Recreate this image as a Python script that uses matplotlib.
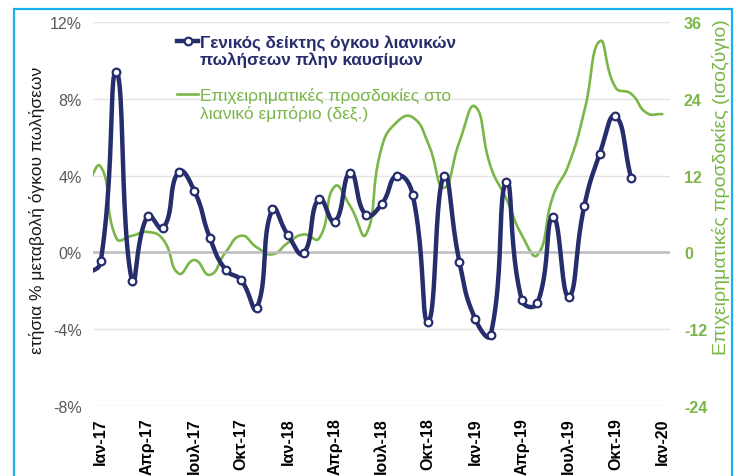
import numpy as np
import matplotlib
matplotlib.use('Agg')
import matplotlib.pyplot as plt
from matplotlib.patches import Rectangle

plt.rcParams['font.family'] = ['Liberation Sans', 'DejaVu Sans']

# month index: 0 = Ιαν-17, -1 = Δεκ-16 (just outside the plot)
sales_months = list(range(-1, 35))
sales = [-1.2, -0.45, 9.4, -1.5, 1.9, 1.25, 4.2, 3.2, 0.75, -0.9, -1.45, -2.9,
         2.25, 0.9, -0.05, 2.8, 1.6, 4.15, 1.95, 2.5, 4.0, 3.0, -3.6, 4.0,
         -0.5, -3.45, -4.3, 3.65, -2.5, -2.65, 1.85, -2.3, 2.4, 5.15, 7.1, 3.9]

conf_months = list(range(-1, 37))
confidence = [10.0, 13.4, 2.2, 2.6, 3.2, 2.0, -3.3, -1.2, -3.5, 0.0, 2.6, 0.8,
              -0.3, 1.5, 2.8, 2.2, 10.3, 7.2, 2.8, 16.3, 20.4, 21.1, 17.0, 10.1,
              17.3, 22.8, 13.4, 8.4, 2.7, -0.4, 8.8, 13.7, 22.0, 33.0, 25.8, 24.8,
              21.8, 21.6]

tick_months = list(range(0, 37, 3))
tick_labels = ['Ιαν-17', 'Απρ-17', 'Ιουλ-17', 'Οκτ-17', 'Ιαν-18', 'Απρ-18', 'Ιουλ-18',
               'Οκτ-18', 'Ιαν-19', 'Απρ-19', 'Ιουλ-19', 'Οκτ-19', 'Ιαν-20']

left_ticks = [-8, -4, 0, 4, 8, 12]
right_ticks = [-24, -12, 0, 12, 24, 36]

navy = '#262D6D'
green = '#7AB648'


def smooth(axis, x, y, k=0.5, steps=24):
    # Excel-style smoothed line, built in screen space so the curve
    # does not overshoot on short segments
    pts = axis.transData.transform(np.column_stack([x, y]))
    n = len(pts)
    t = np.linspace(0, 1, steps, endpoint=False)[:, None]
    parts = []
    for i in range(n - 1):
        p0 = pts[max(i - 1, 0)]
        p1, p2 = pts[i], pts[i + 1]
        p3 = pts[min(i + 2, n - 1)]
        d01 = np.hypot(*(p1 - p0))
        d12 = np.hypot(*(p2 - p1))
        d23 = np.hypot(*(p3 - p2))
        c1 = p1 + (p2 - p0) * k * d12 / (d01 + d12)
        c2 = p2 - (p3 - p1) * k * d12 / (d12 + d23)
        parts.append((1 - t) ** 3 * p1 + 3 * (1 - t) ** 2 * t * c1
                     + 3 * (1 - t) * t ** 2 * c2 + t ** 3 * p2)
    parts.append(pts[-1:])
    curve = axis.transData.inverted().transform(np.vstack(parts))
    return curve[:, 0], curve[:, 1]


fig = plt.figure(figsize=(7.38, 4.77), dpi=100)
ax = fig.add_axes([93 / 738, 1 - 407 / 477, 577 / 738, 384 / 477])
ax2 = ax.twinx()
ax.set_zorder(2)
ax2.set_zorder(1)
ax.patch.set_visible(False)

ax.set_xlim(-0.5, 36.5)
ax.set_ylim(-8, 12)
ax2.set_ylim(-24, 36)

# right axis: green line, grid
gx, gy = smooth(ax2, conf_months, confidence)
ax2.plot(gx, gy, color=green, lw=1.9, solid_capstyle='round')
ax2.set_yticks(right_ticks)
ax2.set_yticklabels([str(v) for v in right_ticks], color=green, fontweight='bold', fontsize=11.5)
ax2.grid(axis='y', color='#e3e3e3', lw=1)
ax2.axhline(0, color='#bdbdbd', lw=1.8)
ax2.tick_params(axis='y', length=0, pad=10)
ax2.set_ylabel('Επιχειρηματικές προσδοκίες (ισοζύγιο)', color=green, fontsize=14,
               va='center', rotation=90)
ax2.yaxis.set_label_coords(1.088, 0.572)

# left axis: sales volume
sx, sy = smooth(ax, sales_months, sales)
ax.plot(sx, sy, color=navy, lw=3.2, solid_capstyle='round')
ax.plot(sales_months, sales, ls='none', marker='o', ms=5.5, mfc='white', mec=navy, mew=1.6)
ax.set_yticks(left_ticks)
ax.set_yticklabels([f'{v}%' for v in left_ticks], color='#595959', fontsize=11.5)
ax.tick_params(axis='y', length=0, pad=8)
ax.set_ylabel('ετήσια % μεταβολή όγκου πωλήσεων', color='#1a1a1a', fontsize=12.5, va='center')
ax.yaxis.set_label_coords(-0.097, 0.513)

ax.set_xlim(-0.5, 36.5)
ax.set_xticks(tick_months)
ax.set_xticklabels(tick_labels, rotation=90, fontweight='bold', fontsize=11.5)
ax.tick_params(axis='x', length=0, pad=8)

for a in (ax, ax2):
    for s in a.spines.values():
        s.set_visible(False)

# legend drawn by hand to keep handles on the first text line
ax.plot([0.1456, 0.182], [0.9505, 0.9505], transform=ax.transAxes, color=navy, lw=3.2, clip_on=False)
ax.plot([0.1638], [0.9505], transform=ax.transAxes, marker='o', ms=5.5, mfc='white', mec=navy, mew=1.6,
        clip_on=False)
ax.text(0.1854, 0.926, 'Γενικός δείκτης όγκου λιανικών\nπωλήσεων πλην καυσίμων', transform=ax.transAxes,
        color=navy, fontweight='bold', fontsize=12.3, va='center', ha='left', linespacing=1.15)
ax.plot([0.1456, 0.182], [0.8125, 0.8125], transform=ax.transAxes, color=green, lw=1.9, clip_on=False)
ax.text(0.1854, 0.786, 'Επιχειρηματικές προσδοκίες στο\nλιανικό εμπόριο (δεξ.)', transform=ax.transAxes,
        color=green, fontsize=12.5, va='center', ha='left', linespacing=1.15)

# light blue frame around the chart
fig.add_artist(Rectangle((14 / 738, -0.05), 718 / 738, 1.05 - 10 / 477, transform=fig.transFigure,
                         fill=False, edgecolor='#19B2EE', lw=1.6))

fig.savefig('out.png', dpi=100, facecolor='white')
